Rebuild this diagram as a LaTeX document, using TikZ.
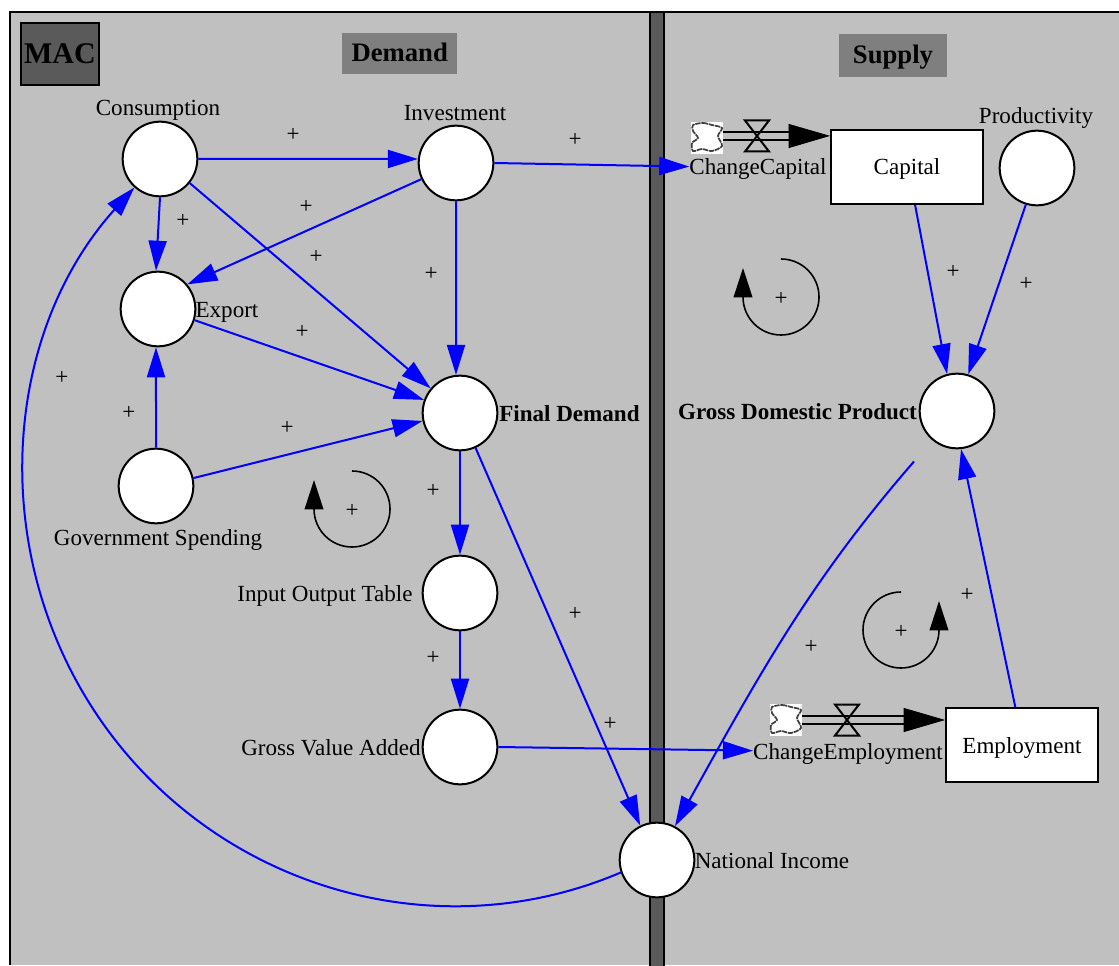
\documentclass[tikz,border=0pt]{standalone}
\usepackage{fontspec}
\setmainfont{Liberation Serif}
\usepackage{xcolor}
\usetikzlibrary{automata, positioning, arrows.meta, calc}
\definecolor{panelgray}{HTML}{C0C0C0}
\definecolor{bargray}{HTML}{5A5A5A}
\definecolor{titlegray}{HTML}{7F7F7F}
\tikzset{
	every state/.style={draw=black, fill=white, line width=1.5pt, minimum size=56pt, inner sep=0pt},
	stock/.style={draw=black, fill=white, line width=1.5pt, minimum width=114pt, minimum height=55.5pt, text height=14pt, text depth=2pt, font=\fontsize{17.3}{20}\selectfont},
	lab/.style={inner sep=0pt, yshift=-1.5pt, font=\fontsize{17.3}{20}\selectfont},
	boldlab/.style={inner sep=0pt, font=\fontsize{17.3}{20}\selectfont\bfseries},
	titlebox/.style={inner sep=0pt, text height=15pt, text depth=3.6pt, font=\fontsize{20}{24}\selectfont\bfseries, fill=titlegray},
	link/.style={draw=blue, line width=1.5pt, -{Triangle[length=22.5pt,width=13.5pt]}},
	flowline/.style={draw=black, line width=1.5pt, double=panelgray, double distance=4.5pt},
	flowhead/.style={draw=black, line width=0.5pt, -{Triangle[length=31pt,width=18pt]}},
	valve/.style={draw=black, line width=1.5pt},
	cloudbox/.style={fill=white, minimum size=24pt, inner sep=0pt},
	cloudline/.style={draw=black!75, line width=1.3pt, dash pattern=on 4pt off 0.6pt},
	loopline/.style={draw=black, line width=1.2pt, -{Triangle[length=22pt,width=14pt]}}
}
\newcommand{\cloudmark}[1]{\draw[cloudline, shift={(#1)}] plot[smooth cycle] coordinates {(-14,13) (-4,15) (5,13) (15,10) (11,2) (15,-8) (5,-13) (-5,-11) (-14,-13) (-15,-5) (-9,0) (-14,7)};}
\newcommand{\valvemark}[1]{\draw[valve, shift={(#1)}] (-12,15.5) -- (12,15.5) -- (-12,-15.5) -- (12,-15.5) -- cycle;}
\begin{document}
\begin{tikzpicture}[x=0.75pt, y=0.75pt]
\useasboundingbox (0,0) rectangle (1119,965);
\fill[panelgray] (10,0) rectangle (1119,953);
\draw[line width=1.5pt] (10,0) -- (10,953) -- (1119,953);
\draw[line width=1.5pt, fill=bargray] (650,-2) rectangle (664,953);

\node[draw=black, line width=1.5pt, fill=bargray, minimum width=59pt, minimum height=47pt, inner sep=0pt, font=\fontsize{22.5}{26}\selectfont\bfseries] (mac) at (60,911) {MAC};
\node[titlebox, minimum width=86.5pt, minimum height=31.2pt] (demand) at (399.7,911.5) {Demand};
\node[titlebox, minimum width=80.5pt, minimum height=31.8pt] (supply) at (893,909.5) {Supply};

\node[state] (cons) at (160,806) {};
\node[state] (inv) at (456,802) {};
\node[state] (exp) at (158,656) {};
\node[state] (fin) at (460,552) {};
\node[state] (gov) at (156,479) {};
\node[state] (iot) at (460,372) {};
\node[state] (gva) at (460,218) {};
\node[state] (nat) at (657,105) {};
\node[state] (gdp) at (957,554) {};
\node[state] (prod) at (1037,797) {};
\node[stock] (cap) at (907,798) {Capital};
\node[stock] (emp) at (1022,220) {Employment};

\node[lab] (conslab) at (158,857) {Consumption};
\node[lab] (invlab) at (455,854) {Investment};
\node[lab] (explab) at (227,655) {Export};
\node[boldlab, right] (finlab) at (499,551) {Final Demand};
\node[lab] (govlab) at (158,427) {Government Spending};
\node[lab] (iotlab) at (325,371) {Input Output Table};
\node[lab] (gvalab) at (331,219) {Gross Value Added};
\node[lab] (natlab) at (772,106) {National Income};
\node[boldlab] (gdplab) at (797.5,553) {Gross Domestic Product};
\node[lab] (prodlab) at (1036,849) {Productivity};
\node[lab] (chcap) at (758,798) {ChangeCapital};
\node[lab] (chemp) at (848,213) {ChangeEmployment};

\node[cloudbox] (cloudcap) at (707,827) {};
\node[cloudbox] (cloudemp) at (786,245) {};
\cloudmark{cloudcap}
\cloudmark{cloudemp}
\coordinate (valvecap) at (757,829);
\coordinate (valveemp) at (847,245);
\coordinate (flowcap) at (789,829);
\coordinate (flowemp) at (905,245);
\draw[flowline] (cloudcap.east |- flowcap) -- (flowcap);
\draw[flowline] (cloudemp.east |- flowemp) -- (flowemp);
\valvemark{valvecap}
\valvemark{valveemp}
\draw[flowhead] (flowcap) -- (cap.158);
\draw[flowhead] (flowemp) -- (emp.162);

\draw	(cons.0) edge[link] (inv.174)
		(inv.0) edge[link] (chcap.178)
		(cons.270) edge[link] (exp.93)
		(cons.-39) edge[link] (fin.140)
		(inv.205) edge[link] (exp.40)
		(inv.270) edge[link] (fin.96)
		(exp.-17) edge[link] (fin.160)
		(gov.90) edge[link] (exp.-93)
		(gov.12) edge[link] (fin.192)
		(fin.-90) edge[link] (iot.90)
		(iot.-90) edge[link] (gva.90)
		(fin.-66) edge[link] (nat.116)
		(gdp.230) edge[link, out=229, in=61, shorten <=21pt] (nat.62)
		(gva.0) edge[link] (chemp.178)
		(cap.-78) edge[link] (gdp.105)
		(prod.-107) edge[link] (gdp.73)
		(emp.100) edge[link] (gdp.-84);
\draw[link] (nat.199) .. controls (437,14) and (221,76) .. (104,240) .. controls (-13,404) and (0,628) .. (cons.228);

\coordinate (loopa) at (352,456);
\coordinate (loopb) at (781,668);
\coordinate (loopc) at (901,335);
\draw[loopline] ($(loopa)+(0,38)$) arc[start angle=90, end angle=-180, radius=38] -- ++(0,29);
\draw[loopline] ($(loopb)+(0,38)$) arc[start angle=90, end angle=-180, radius=38] -- ++(0,29);
\draw[loopline] ($(loopc)+(0,38)$) arc[start angle=90, end angle=360, radius=38] -- ++(0,29);

\node[lab] (p1) at (293,832) {+};
\node[lab] (p2) at (575,827) {+};
\node[lab] (p3) at (183,746) {+};
\node[lab] (p4) at (306,760) {+};
\node[lab] (p5) at (316,710) {+};
\node[lab] (p6) at (431,693) {+};
\node[lab] (p7) at (302,635) {+};
\node[lab] (p8) at (129,554) {+};
\node[lab] (p9) at (62,589) {+};
\node[lab] (p10) at (287,539) {+};
\node[lab] (p11) at (433,476) {+};
\node[lab] (p12) at (575,353) {+};
\node[lab] (p13) at (433,309) {+};
\node[lab] (p14) at (610,243) {+};
\node[lab] (p15) at (953,695) {+};
\node[lab] (p16) at (1026,683) {+};
\node[lab] (p17) at (967,372) {+};
\node[lab] (p18) at (811,320) {+};
\node[lab] (p19) at (781,668) {+};
\node[lab] (p20) at (352,456) {+};
\node[lab] (p21) at (901,335) {+};
\end{tikzpicture}
\end{document}
